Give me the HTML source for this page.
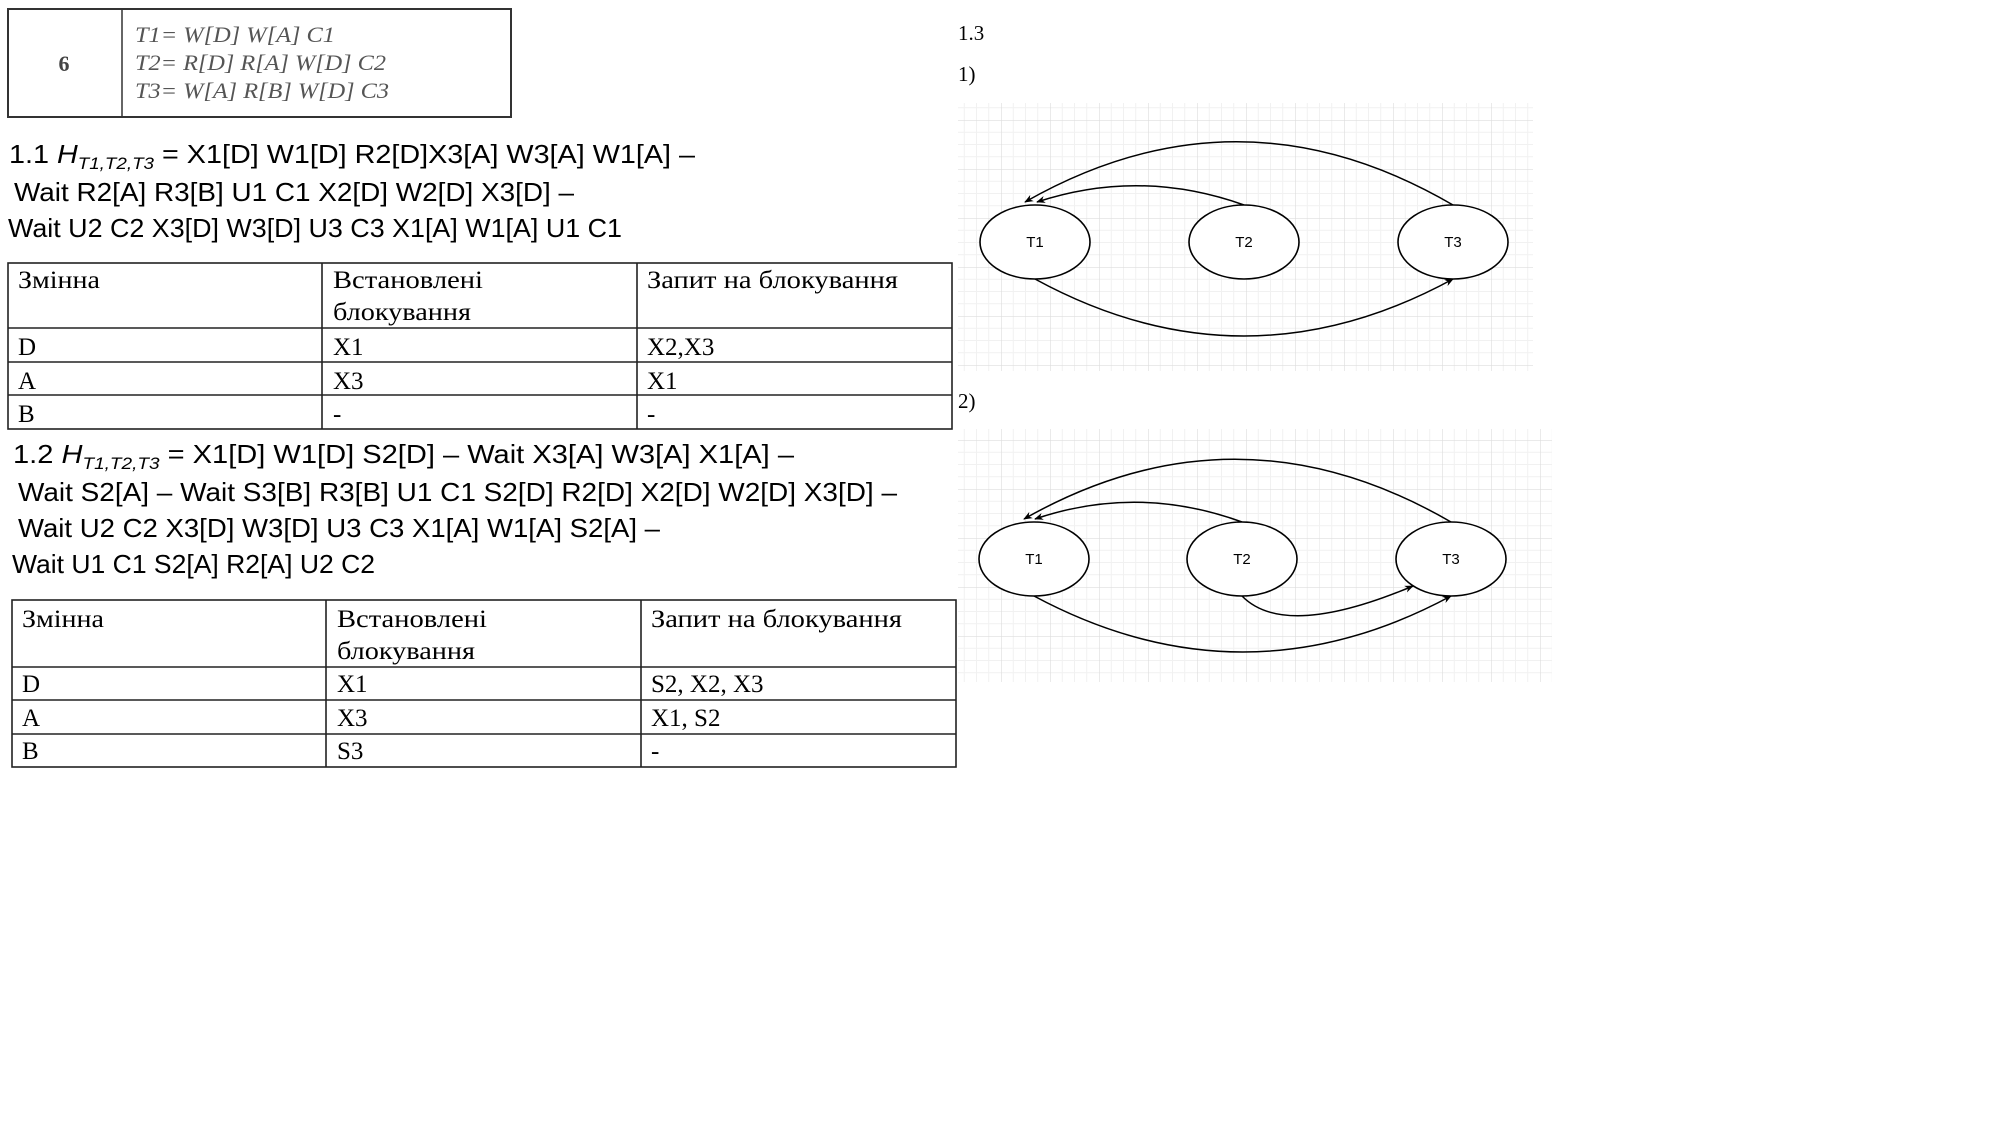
<!DOCTYPE html>
<html><head><meta charset="utf-8"><style>
html,body{margin:0;padding:0;background:#fff;}
svg{display:block;}
.sans{font-family:"Liberation Sans",sans-serif;}
.serif{font-family:"Liberation Serif","DejaVu Serif",serif;}
</style></head><body>
<svg width="2008" height="1142" viewBox="0 0 2008 1142" xmlns="http://www.w3.org/2000/svg">
<defs>
<pattern id="gr1" x="957" y="120" width="49" height="49" patternUnits="userSpaceOnUse">
<path d="M12.25 0V49M24.5 0V49M36.75 0V49M0 12.25H49M0 24.5H49M0 36.75H49" stroke="#f1f1f1" stroke-width="1"/>
<path d="M0 0V49M0 0H49" stroke="#dedede" stroke-width="1.3"/>
</pattern>
<pattern id="gr2" x="957" y="440" width="49" height="49" patternUnits="userSpaceOnUse">
<path d="M12.25 0V49M24.5 0V49M36.75 0V49M0 12.25H49M0 24.5H49M0 36.75H49" stroke="#f1f1f1" stroke-width="1"/>
<path d="M0 0V49M0 0H49" stroke="#dedede" stroke-width="1.3"/>
</pattern>
<marker id="ar" viewBox="0 0 10 10" refX="9" refY="5" markerWidth="9" markerHeight="9" orient="auto" markerUnits="userSpaceOnUse"><path d="M0 1L10 5L0 9L3 5Z" fill="#000"/></marker>
</defs>

<g>
<rect x="8" y="9" width="503" height="108" fill="none" stroke="#333" stroke-width="2"/>
<line x1="122" y1="9" x2="122" y2="117" stroke="#333" stroke-width="1.5"/>
<text x="64" y="71" text-anchor="middle" class="serif" font-size="22" fill="#444" font-weight="bold">6</text>
<g class="serif" font-style="italic" font-size="22" fill="#555">
<text x="135" y="42" textLength="200" lengthAdjust="spacingAndGlyphs">T1= W[D] W[A] C1</text>
<text x="135" y="70" textLength="251" lengthAdjust="spacingAndGlyphs">T2= R[D] R[A] W[D] C2</text>
<text x="135" y="98" textLength="254" lengthAdjust="spacingAndGlyphs">T3= W[A] R[B] W[D] C3</text>
</g>
</g>

<g class="sans" font-size="26" fill="#000">
<text x="9" y="163" textLength="686" lengthAdjust="spacingAndGlyphs">1.1 <tspan font-style="italic">H</tspan><tspan font-style="italic" font-size="17" dy="6">T1,T2,T3</tspan><tspan dy="-6"> = X1[D] W1[D] R2[D]X3[A] W3[A] W1[A]  –</tspan></text>
<text x="14" y="201" textLength="560" lengthAdjust="spacingAndGlyphs">Wait R2[A] R3[B] U1 C1 X2[D] W2[D] X3[D]  –</text>
<text x="8" y="237" textLength="614" lengthAdjust="spacingAndGlyphs">Wait U2 C2 X3[D] W3[D] U3 C3 X1[A] W1[A] U1 C1</text>
</g>

<g stroke="#222" stroke-width="1.6">
<rect x="8" y="263" width="944" height="166" fill="none"/>
<line x1="322" y1="263" x2="322" y2="429"/><line x1="637" y1="263" x2="637" y2="429"/>
<line x1="8" y1="328" x2="952" y2="328"/><line x1="8" y1="362" x2="952" y2="362"/><line x1="8" y1="395" x2="952" y2="395"/>
</g>
<g class="serif" font-size="25" fill="#000">
<text x="18" y="288" textLength="82" lengthAdjust="spacingAndGlyphs">Змінна</text>
<text x="333" y="288" textLength="150" lengthAdjust="spacingAndGlyphs">Встановлені</text>
<text x="333" y="320" textLength="138" lengthAdjust="spacingAndGlyphs">блокування</text>
<text x="647" y="288" textLength="251" lengthAdjust="spacingAndGlyphs">Запит на блокування</text>
<text x="18" y="355">D</text><text x="333" y="355">X1</text><text x="647" y="355">X2,X3</text>
<text x="18" y="389">A</text><text x="333" y="389">X3</text><text x="647" y="389">X1</text>
<text x="18" y="422">B</text><text x="333" y="422">-</text><text x="647" y="422">-</text>
</g>

<g class="sans" font-size="26" fill="#000">
<text x="13" y="463" textLength="781" lengthAdjust="spacingAndGlyphs">1.2 <tspan font-style="italic">H</tspan><tspan font-style="italic" font-size="17" dy="6">T1,T2,T3</tspan><tspan dy="-6"> = X1[D] W1[D] S2[D]  –  Wait X3[A] W3[A] X1[A]  –</tspan></text>
<text x="18" y="501" textLength="879" lengthAdjust="spacingAndGlyphs">Wait S2[A]  – Wait S3[B] R3[B] U1 C1 S2[D] R2[D] X2[D] W2[D] X3[D]  –</text>
<text x="18" y="537" textLength="642" lengthAdjust="spacingAndGlyphs">Wait U2 C2 X3[D] W3[D] U3 C3 X1[A] W1[A] S2[A]  –</text>
<text x="12" y="573" textLength="363" lengthAdjust="spacingAndGlyphs">Wait U1 C1 S2[A] R2[A] U2 C2</text>
</g>

<g stroke="#222" stroke-width="1.6">
<rect x="12" y="600" width="944" height="167" fill="none"/>
<line x1="326" y1="600" x2="326" y2="767"/><line x1="641" y1="600" x2="641" y2="767"/>
<line x1="12" y1="667" x2="956" y2="667"/><line x1="12" y1="700" x2="956" y2="700"/><line x1="12" y1="734" x2="956" y2="734"/>
</g>
<g class="serif" font-size="25" fill="#000">
<text x="22" y="627" textLength="82" lengthAdjust="spacingAndGlyphs">Змінна</text>
<text x="337" y="627" textLength="150" lengthAdjust="spacingAndGlyphs">Встановлені</text>
<text x="337" y="659" textLength="138" lengthAdjust="spacingAndGlyphs">блокування</text>
<text x="651" y="627" textLength="251" lengthAdjust="spacingAndGlyphs">Запит на блокування</text>
<text x="22" y="692">D</text><text x="337" y="692">X1</text><text x="651" y="692">S2, X2, X3</text>
<text x="22" y="726">A</text><text x="337" y="726">X3</text><text x="651" y="726">X1, S2</text>
<text x="22" y="759">B</text><text x="337" y="759">S3</text><text x="651" y="759">-</text>
</g>

<g transform="translate(-5,0)">
<g class="serif" font-size="21" fill="#000">
<text x="963" y="40">1.3</text>
<text x="963" y="81">1)</text>
<text x="963" y="408">2)</text>
</g>

<g>
<rect x="963" y="103" width="575" height="268" fill="url(#gr1)"/>
<g fill="none" stroke="#000" stroke-width="1.5">
<path d="M1458 205 Q1244 80 1030 202" marker-end="url(#ar)"/>
<path d="M1249 205 Q1145 168 1042 202" marker-end="url(#ar)"/>
<path d="M1040 279 Q1249 393 1458 279" marker-end="url(#ar)"/>
</g>
<g fill="#fff" stroke="#000" stroke-width="1.6">
<ellipse cx="1040" cy="242" rx="55" ry="37"/>
<ellipse cx="1249" cy="242" rx="55" ry="37"/>
<ellipse cx="1458" cy="242" rx="55" ry="37"/>
</g>
<g class="sans" font-size="15" text-anchor="middle" fill="#000">
<text x="1040" y="247">T1</text><text x="1249" y="247">T2</text><text x="1458" y="247">T3</text>
</g>
</g>

<g>
<rect x="963" y="429" width="594" height="253" fill="url(#gr2)"/>
<g fill="none" stroke="#000" stroke-width="1.5">
<path d="M1456 522 Q1242 398 1029 519" marker-end="url(#ar)"/>
<path d="M1247 522 Q1143 484 1040 519" marker-end="url(#ar)"/>
<path d="M1247 596 Q1290 640 1418 586" marker-end="url(#ar)"/>
<path d="M1039 596 Q1248 708 1456 596" marker-end="url(#ar)"/>
</g>
<g fill="#fff" stroke="#000" stroke-width="1.6">
<ellipse cx="1039" cy="559" rx="55" ry="37"/>
<ellipse cx="1247" cy="559" rx="55" ry="37"/>
<ellipse cx="1456" cy="559" rx="55" ry="37"/>
</g>
<g class="sans" font-size="15" text-anchor="middle" fill="#000">
<text x="1039" y="564">T1</text><text x="1247" y="564">T2</text><text x="1456" y="564">T3</text>
</g>
</g>
</g>
</svg>
</body></html>
